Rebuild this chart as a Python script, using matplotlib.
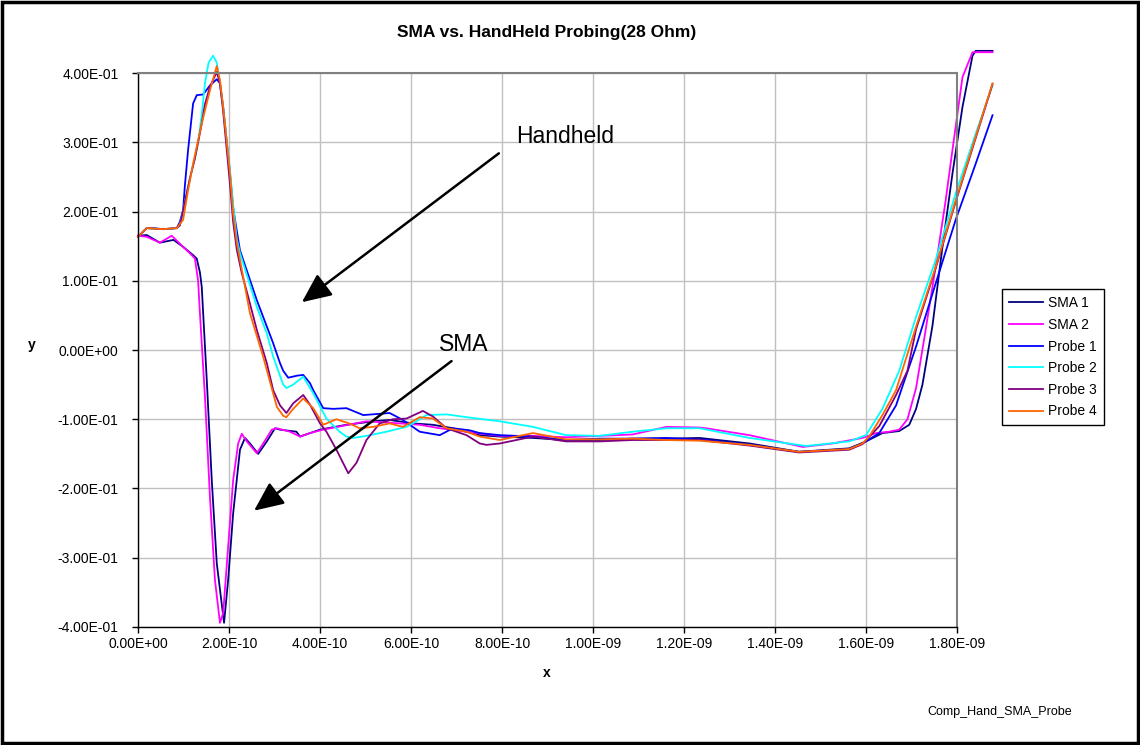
"""SMA vs. HandHeld probing (28 Ohm) - TDR style overlay of six captures."""

import matplotlib

matplotlib.use("Agg")
import matplotlib.pyplot as plt
import numpy as np
from matplotlib.patches import Rectangle
from matplotlib.ticker import FixedLocator, FuncFormatter

plt.rcParams["font.family"] = ["Liberation Sans", "DejaVu Sans"]

# time in units of 1e-10 s, voltage in V
SMA1_T = [0, 0.19, 0.48, 0.78, 0.99, 1.21, 1.29, 1.36, 1.40, 1.51, 1.62, 1.73, 1.89,
          1.98, 2.09, 2.24, 2.35, 2.46, 2.64, 2.83, 3.01, 3.12, 3.48, 3.56, 4.00, 4.58,
          5.17, 5.53, 6.04, 6.48, 6.92, 7.51, 7.95, 8.68, 9.41, 10.14, 10.87, 11.61,
          12.34, 13.44, 14.53, 15.63, 16.00, 16.36, 16.73, 16.95, 17.10, 17.24, 17.46,
          17.68, 17.90, 18.12, 18.34, 18.41, 18.78]
SMA1_V = [0.165, 0.166, 0.155, 0.159, 0.149, 0.137, 0.132, 0.112, 0.091, -0.043, -0.188,
          -0.308, -0.394, -0.332, -0.236, -0.144, -0.127, -0.135, -0.150, -0.132, -0.113,
          -0.115, -0.118, -0.125, -0.115, -0.108, -0.103, -0.101, -0.106, -0.108, -0.113,
          -0.123, -0.125, -0.127, -0.130, -0.130, -0.128, -0.128, -0.127, -0.135, -0.147,
          -0.142, -0.132, -0.120, -0.117, -0.108, -0.085, -0.050, 0.035, 0.149, 0.255,
          0.351, 0.425, 0.432, 0.432]

SMA2_T = [0, 0.19, 0.48, 0.74, 0.99, 1.18, 1.25, 1.32, 1.36, 1.47, 1.58, 1.69, 1.80,
          1.87, 1.98, 2.09, 2.20, 2.28, 2.39, 2.61, 2.75, 2.94, 3.05, 3.34, 3.56, 3.78,
          4.07, 5.02, 5.75, 6.19, 6.63, 7.22, 7.95, 8.68, 9.41, 10.14, 10.87, 11.61,
          12.34, 12.48, 13.44, 14.61, 15.26, 15.92, 16.22, 16.51, 16.73, 16.91, 17.10,
          17.31, 17.53, 17.75, 17.90, 18.12, 18.34, 18.78]
SMA2_V = [0.165, 0.1635, 0.155, 0.165, 0.149, 0.137, 0.132, 0.100, 0.053, -0.067, -0.212,
          -0.332, -0.394, -0.380, -0.284, -0.188, -0.135, -0.121, -0.132, -0.149, -0.135,
          -0.115, -0.113, -0.118, -0.125, -0.120, -0.115, -0.103, -0.106, -0.108, -0.113,
          -0.118, -0.124, -0.124, -0.126, -0.124, -0.122, -0.111, -0.112, -0.113, -0.123,
          -0.140, -0.135, -0.127, -0.120, -0.118, -0.115, -0.100, -0.055, 0.029, 0.120,
          0.216, 0.289, 0.394, 0.430, 0.430]

PROBE1_T = [0, 0.19, 0.33, 0.55, 0.85, 0.92, 0.99, 1.03, 1.10, 1.21, 1.29, 1.43, 1.58,
            1.73, 1.80, 1.87, 2.02, 2.09, 2.20, 2.24, 2.61, 2.97, 3.12, 3.19, 3.30, 3.50,
            3.63, 3.78, 3.85, 4.07, 4.29, 4.58, 4.95, 5.53, 5.82, 6.19, 6.63, 6.92, 7.29,
            7.51, 7.95, 8.68, 9.41, 10.14, 10.87, 11.61, 12.48, 13.44, 14.53, 15.63, 15.92,
            16.29, 16.66, 16.84, 17.10, 17.53, 17.97, 18.41, 18.78]
PROBE1_V = [0.1635, 0.176, 0.176, 0.1745, 0.176, 0.185, 0.202, 0.238, 0.289, 0.356, 0.368,
            0.369, 0.382, 0.391, 0.385, 0.351, 0.255, 0.205, 0.160, 0.144, 0.072, 0.0097,
            -0.019, -0.030, -0.040, -0.037, -0.036, -0.048, -0.058, -0.084, -0.085, -0.084,
            -0.094, -0.091, -0.101, -0.118, -0.123, -0.113, -0.116, -0.120, -0.123, -0.125,
            -0.130, -0.128, -0.128, -0.127, -0.130, -0.137, -0.147, -0.143, -0.135, -0.120,
            -0.080, -0.045, 0.005, 0.096, 0.188, 0.269, 0.339]

PROBE2_T = [0, 0.19, 0.55, 0.85, 0.92, 1.03, 1.14, 1.25, 1.32, 1.40, 1.47, 1.55, 1.65,
            1.73, 1.80, 1.87, 2.02, 2.09, 2.17, 2.24, 2.61, 2.83, 2.97, 3.19, 3.26, 3.41,
            3.63, 3.85, 4.14, 4.43, 4.58, 4.73, 5.02, 5.46, 5.90, 6.04, 6.34, 6.78, 7.22,
            7.95, 8.68, 9.41, 10.14, 10.87, 11.61, 12.34, 13.44, 14.68, 15.63, 16.00, 16.36,
            16.73, 17.10, 17.53, 17.97, 18.41, 18.78]
PROBE2_V = [0.1635, 0.176, 0.1745, 0.176, 0.180, 0.214, 0.248, 0.277, 0.300, 0.340, 0.385,
            0.415, 0.425, 0.415, 0.385, 0.351, 0.260, 0.210, 0.160, 0.140, 0.0625, 0.024,
            -0.0097, -0.050, -0.055, -0.050, -0.0385, -0.0625, -0.099, -0.118, -0.125,
            -0.127, -0.124, -0.118, -0.111, -0.106, -0.094, -0.093, -0.097, -0.103, -0.111,
            -0.123, -0.124, -0.118, -0.113, -0.113, -0.127, -0.1386, -0.132, -0.123, -0.085,
            -0.030, 0.048, 0.130, 0.226, 0.3125, 0.382]

PROBE3_T = [0, 0.19, 0.55, 0.85, 0.92, 1.03, 1.14, 1.25, 1.32, 1.40, 1.47, 1.58, 1.73,
            1.80, 1.87, 2.02, 2.09, 2.17, 2.28, 2.42, 2.61, 2.83, 2.97, 3.12, 3.26, 3.41,
            3.63, 3.78, 4.00, 4.14, 4.36, 4.62, 4.80, 5.02, 5.31, 5.60, 5.90, 6.26, 6.48,
            6.78, 7.22, 7.51, 7.66, 7.95, 8.68, 9.41, 10.14, 10.87, 11.61, 12.34, 13.44,
            14.53, 15.63, 15.92, 16.29, 16.66, 16.91, 17.10, 17.53, 17.97, 18.41, 18.78]
PROBE3_V = [0.1635, 0.176, 0.1745, 0.176, 0.180, 0.214, 0.248, 0.277, 0.300, 0.327, 0.355,
            0.380, 0.4016, 0.385, 0.345, 0.240, 0.185, 0.145, 0.111, 0.077, 0.029, -0.019,
            -0.058, -0.080, -0.091, -0.077, -0.065, -0.079, -0.106, -0.118, -0.144, -0.178,
            -0.163, -0.130, -0.106, -0.100, -0.099, -0.088, -0.096, -0.113, -0.123, -0.135,
            -0.137, -0.135, -0.125, -0.132, -0.132, -0.130, -0.130, -0.130, -0.138, -0.148,
            -0.144, -0.136, -0.110, -0.065, -0.030, 0.030, 0.118, 0.214, 0.306, 0.384]

PROBE4_T = [0, 0.19, 0.55, 0.85, 0.99, 1.10, 1.21, 1.32, 1.40, 1.58, 1.73, 1.80, 1.87,
            2.02, 2.09, 2.17, 2.46, 2.75, 3.05, 3.19, 3.26, 3.41, 3.63, 3.85, 4.07, 4.36,
            4.64, 4.87, 5.17, 5.53, 5.82, 6.19, 6.48, 6.78, 7.22, 7.51, 7.95, 8.68, 9.41,
            10.14, 10.87, 11.61, 12.34, 13.44, 14.53, 15.63, 15.92, 16.07, 16.36, 16.66,
            17.10, 17.53, 17.97, 18.41, 18.78]
PROBE4_V = [0.1635, 0.176, 0.1745, 0.176, 0.188, 0.231, 0.269, 0.303, 0.327, 0.375, 0.410,
            0.390, 0.351, 0.255, 0.197, 0.155, 0.053, -0.0097, -0.082, -0.095, -0.097,
            -0.085, -0.070, -0.084, -0.108, -0.100, -0.106, -0.113, -0.111, -0.106, -0.111,
            -0.097, -0.099, -0.113, -0.118, -0.125, -0.130, -0.120, -0.129, -0.129, -0.128,
            -0.130, -0.131, -0.137, -0.147, -0.143, -0.135, -0.125, -0.094, -0.058, 0.034,
            0.120, 0.216, 0.308, 0.385]

SERIES = [
    ("SMA 1", SMA1_T, SMA1_V, "#000080"),
    ("SMA 2", SMA2_T, SMA2_V, "#FF00FF"),
    ("Probe 1", PROBE1_T, PROBE1_V, "#0000FF"),
    ("Probe 2", PROBE2_T, PROBE2_V, "#00FFFF"),
    ("Probe 3", PROBE3_T, PROBE3_V, "#800080"),
    ("Probe 4", PROBE4_T, PROBE4_V, "#FF6600"),
]

X_TICKS = [i * 2e-10 for i in range(10)]
Y_TICKS = [-0.4, -0.3, -0.2, -0.1, 0.0, 0.1, 0.2, 0.3, 0.4]

fig = plt.figure(figsize=(11.4, 7.45), dpi=100)
ax = fig.add_axes([0.1211, 0.1584, 0.7184, 0.7436])

for name, t, v, color in SERIES:
    # Excel lets the traces run past the plot frame, so no clipping here
    ax.plot(np.asarray(t) * 1e-10, v, color=color, lw=1.3, label=name, clip_on=False)

ax.set_xlim(0, 1.8e-9)
ax.set_ylim(-0.4, 0.4)
ax.xaxis.set_major_locator(FixedLocator(X_TICKS))
ax.yaxis.set_major_locator(FixedLocator(Y_TICKS))
ax.xaxis.set_major_formatter(FuncFormatter(lambda v, _: f"{round(v, 16) + 0.0:.2E}"))
ax.yaxis.set_major_formatter(FuncFormatter(lambda v, _: f"{round(v, 6) + 0.0:.2E}"))
ax.tick_params(axis="both", direction="out", length=4, width=1, labelsize=10, colors="black")
ax.tick_params(axis="y", pad=10)
ax.tick_params(axis="x", pad=3)
ax.grid(True, color="#c0c0c0", lw=1)
ax.set_axisbelow(True)
for side in ("top", "right"):
    ax.spines[side].set_color("#808080")
    ax.spines[side].set_linewidth(1.5)
for side in ("left", "bottom"):
    ax.spines[side].set_color("black")
    ax.spines[side].set_linewidth(1)

# call-out arrows
arrow = dict(arrowstyle="-|>,head_length=1.0,head_width=0.45", color="black",
             lw=1.8, mutation_scale=18, shrinkA=0, shrinkB=0)
ax.annotate("", xy=(3.60e-10, 0.069), xytext=(7.93e-10, 0.284),
            arrowprops=arrow, annotation_clip=False)
ax.annotate("", xy=(2.55e-10, -0.232), xytext=(6.89e-10, -0.016),
            arrowprops=arrow, annotation_clip=False)
ax.text(8.30e-10, 0.2987, "Handheld", fontsize=16.5, ha="left", va="baseline")
ax.text(6.61e-10, -0.0014, "SMA", fontsize=16.5, ha="left", va="baseline")

leg = ax.legend(loc="upper left", bbox_to_anchor=(1.047, 0.622), fontsize=10,
                frameon=True, fancybox=False, framealpha=1, edgecolor="black",
                handlelength=2.4, labelspacing=0.55, borderpad=0.5, handletextpad=0.4)
leg.get_frame().set_linewidth(1)

fig.text(547 / 1140, 1 - 33 / 745, "SMA vs. HandHeld Probing(28 Ohm)", fontsize=12.5,
         fontweight="bold", ha="center", va="center")
fig.text(32 / 1140, 1 - 345 / 745, "y", fontsize=10, fontweight="bold",
         ha="center", va="center")
fig.text(547 / 1140, 1 - 673 / 745, "x", fontsize=10, fontweight="bold",
         ha="center", va="center")
fig.text(1000 / 1140, 1 - 712 / 745, "Comp_Hand_SMA_Probe", fontsize=9,
         ha="center", va="center")

fig.patches.append(Rectangle((0.002, 0.003), 0.996, 0.994, transform=fig.transFigure,
                             fill=False, edgecolor="black", lw=2.5))

fig.savefig("out.png", dpi=100)
